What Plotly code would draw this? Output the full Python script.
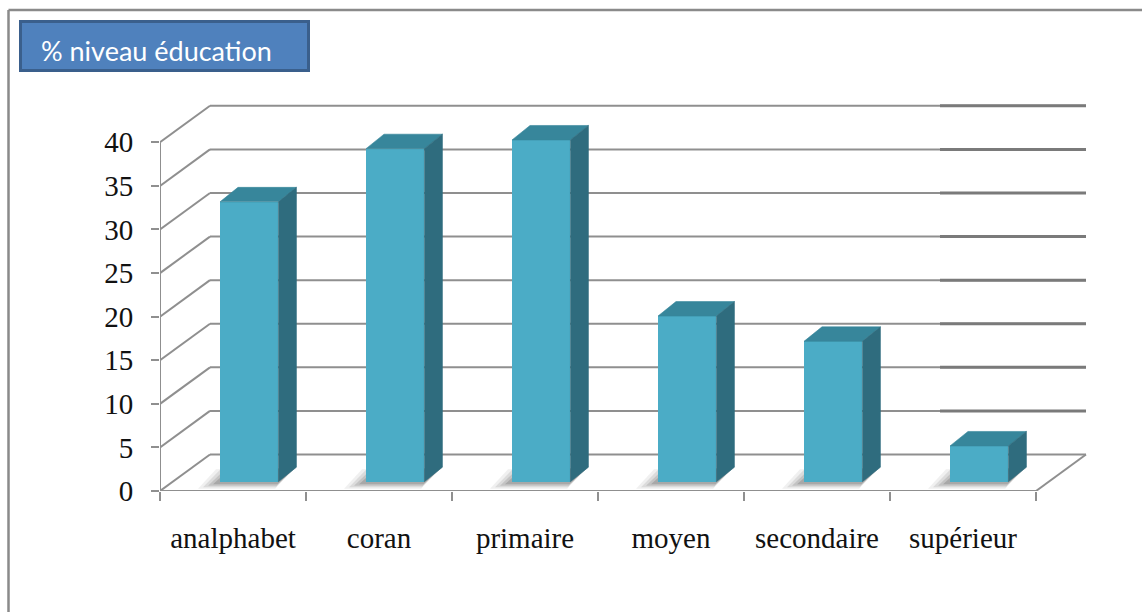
import plotly.graph_objects as go

# ---- data ---------------------------------------------------------------
categories = ["analphabet", "coran", "primaire", "moyen", "secondaire", "supérieur"]
values = [32.1, 38.2, 39.2, 19.0, 16.1, 4.1]
y_ticks = [0, 5, 10, 15, 20, 25, 30, 35, 40]
title_text = "% niveau éducation"

# ---- page / plot-area geometry -----------------------------------------
W, H = 1142, 612
ML, MR, MT, MB = 160, 33, 90, 121
X_RANGE = [-0.5, 6.0]
Y_RANGE = [0, 46]
px_x = (W - ML - MR) / (X_RANGE[1] - X_RANGE[0])   # pixels per category
px_y = (H - MT - MB) / (Y_RANGE[1] - Y_RANGE[0])   # pixels per percent

# oblique projection of the floor / back wall (in pixels, converted to data units)
wall_dx = 50 / px_x
wall_dy = 36.5 / px_y

# 3-D column geometry
BAR_W = 0.40
BAR_OFF = -0.089
bar_base = 9.3 / px_y
bar_dx = 18 / px_x
bar_dy = 14.5 / px_y

FRONT = "#4bacc6"
TOP = "#37869b"
SIDE = "#2f6c7e"
GRID = "#8f8f8f"
GRID_DARK = "#7a7a7a"

n = len(categories)
xs = list(range(n))
x_left = -0.5
x_right = n - 0.5
top_tick = max(y_ticks)


def px_to_paper_x(p):
    return (p - ML) / (W - ML - MR)


def px_to_paper_y(p):
    return (H - MB - p) / (H - MT - MB)


shapes = []


def line(x0, y0, x1, y1, color=GRID, width=2, ref="data"):
    xr, yr = ("x", "y") if ref == "data" else ("paper", "paper")
    shapes.append(dict(type="line", xref=xr, yref=yr, x0=x0, y0=y0, x1=x1, y1=y1,
                       line=dict(color=color, width=width), layer="below"))


# side wall diagonals and back-wall gridlines
for v in y_ticks:
    line(x_left, v, x_left + wall_dx, v + wall_dy)
    line(x_left + wall_dx, v + wall_dy, x_right + wall_dx, v + wall_dy)
    if v > 0:
        line(x_right - 1 + wall_dx, v + wall_dy, x_right + wall_dx, v + wall_dy,
             color=GRID_DARK, width=3)

# floor front edge, right floor edge and front vertical axis
line(x_left, 0, x_right, 0)
line(x_right, 0, x_right + wall_dx, wall_dy)
line(x_left, 0, x_left, top_tick)

# soft floor shadows cast by each column (below the traces)
for i in xs:
    xl = i + BAR_OFF
    xr = xl + BAR_W
    for sx, sy, op in [(22, 7, 0.08), (17, 5.5, 0.11), (12, 4, 0.15), (7, 2.5, 0.2)]:
        dxs = -sx / px_x
        dys = -sy / px_y
        pts = [(xl + dxs, bar_base + dys),
               (xr + dxs * 0.15, bar_base + dys),
               (xr + bar_dx + dxs * 0.15, bar_base + bar_dy + dys * 0.3),
               (xl + bar_dx + dxs, bar_base + bar_dy + dys * 0.3)]
        path = "M " + " L ".join(f"{px},{py}" for px, py in pts) + " Z"
        shapes.append(dict(type="path", xref="x", yref="y", path=path,
                           fillcolor="#3a3a3a", opacity=op,
                           line=dict(width=0), layer="below"))

# outer chart frame (top and left edges)
line(px_to_paper_x(8.5), px_to_paper_y(10), px_to_paper_x(W + 5), px_to_paper_y(10),
     color="#8a8a8a", width=2.5, ref="paper")
line(px_to_paper_x(8.5), px_to_paper_y(10), px_to_paper_x(8.5), px_to_paper_y(H + 5),
     color="#8a8a8a", width=2.5, ref="paper")

# title box
shapes.append(dict(type="rect", xref="paper", yref="paper",
                   x0=px_to_paper_x(20.5), x1=px_to_paper_x(308.5),
                   y0=px_to_paper_y(70.5), y1=px_to_paper_y(21.5),
                   fillcolor="#4f81bd", line=dict(color="#3a5f8c", width=3),
                   layer="above"))

fig = go.Figure()

# column front faces
fig.add_trace(go.Bar(
    x=xs, y=values, base=bar_base, width=BAR_W, offset=BAR_OFF,
    marker=dict(color=FRONT, line=dict(width=0)), showlegend=False,
    hovertext=categories, hoverinfo="text+y"))

# column top and side faces
for i, v in zip(xs, values):
    xl = i + BAR_OFF
    xr = xl + BAR_W
    top = bar_base + v
    fig.add_trace(go.Scatter(
        x=[xl, xr, xr + bar_dx, xl + bar_dx, xl],
        y=[top, top, top + bar_dy, top + bar_dy, top],
        fill="toself", mode="lines", line=dict(width=0.6, color=TOP),
        fillcolor=TOP, hoverinfo="skip", showlegend=False))
    fig.add_trace(go.Scatter(
        x=[xr, xr + bar_dx, xr + bar_dx, xr, xr],
        y=[bar_base, bar_base + bar_dy, top + bar_dy, top, bar_base],
        fill="toself", mode="lines", line=dict(width=0.6, color=SIDE),
        fillcolor=SIDE, hoverinfo="skip", showlegend=False))

fig.update_layout(
    width=W, height=H,
    margin=dict(l=ML, r=MR, t=MT, b=MB, autoexpand=False),
    paper_bgcolor="white", plot_bgcolor="rgba(0,0,0,0)",
    shapes=shapes,
    xaxis=dict(range=X_RANGE, tickvals=xs, ticktext=categories, ticks="",
               showgrid=False, zeroline=False, showline=False,
               tickfont=dict(family="Liberation Serif", size=29, color="#111"),
               ticklabelstandoff=27,
               minor=dict(tickvals=[i - 0.5 for i in range(n + 1)], ticks="outside",
                          ticklen=9, tickwidth=2, tickcolor=GRID, showgrid=False)),
    yaxis=dict(range=Y_RANGE, tickvals=y_ticks, ticks="outside", ticklen=8,
               tickwidth=2, tickcolor=GRID, showgrid=False, zeroline=False,
               showline=False, ticklabelstandoff=12,
               tickfont=dict(family="Liberation Serif", size=29, color="#111")),
    annotations=[dict(text=title_text, xref="paper", yref="paper",
                      x=px_to_paper_x(39), y=px_to_paper_y(50),
                      xanchor="left", yanchor="middle", showarrow=False,
                      font=dict(family="Lato", size=27, color="white"))],
    bargap=0,
)

fig.write_html("out.html")
